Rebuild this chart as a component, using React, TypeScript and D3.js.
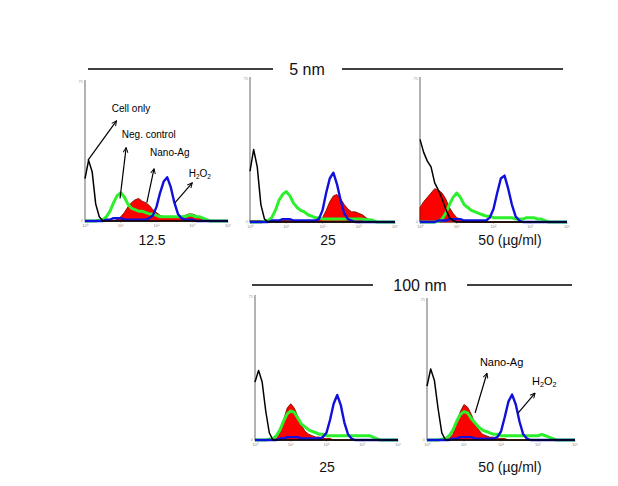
import React from "react";
import * as d3 from "d3";

// log10 fluorescence bins (0.0 .. 4.0)
const BINS = [0,0.1,0.2,0.3,0.4,0.5,0.6,0.7,0.8,0.9,1.0,1.1,1.2,1.3,1.4,1.5,1.6,1.7,1.8,1.9,2.0,2.1,2.2,2.3,2.4,2.5,2.6,2.7,2.8,2.9,3.0,3.1,3.2,3.3,3.4,3.5,3.6,3.7,3.8,3.9,4.0];
const X_TICKS = ["10\u2070", "10\u00b9", "10\u00b2", "10\u00b3", "10\u2074"];
const PANEL_LABELS = ["12.5", "25", "50 (\u00b5g/ml)", "25", "50 (\u00b5g/ml)"];
const GROUP_TITLES = ["5 nm", "100 nm"];

// Panel 1: 5 nm, 12.5
const p1Black = [30,43,35,12,3,0,0,0,0,0,0,0,0,0,0,0,0,0,0,0,0,0,0,0,0,0,0,0,0,0,0,0,0,0,0,0,0,0,0,0,0];
const p1Green = [0,0,0,0,0.5,1,3,7,13,18,20,17,12,9,8,7,7,6,5,5,4,3,3,3,3,3,3,3,3,4,4,3,3,2,1,0,0,0,0,0,0];
const p1Red = [0,0,0,0,0,0,0,0,0,1,3,6,10,13,15,16,14,13,11,8,6,4,3,3,3,3,3,3,4,5,5,4,2,1,0,0,0,0,0,0,0];
const p1Blue = [0,0,0,0,0,0,1,1,2,2,2,1,1,1,1,1,1,1,2,4,10,20,28,31,24,13,5,2,1,1,1,0,0,0,0,0,0,0,0,0,0];

// Panel 2: 5 nm, 25
const p2Black = [35,50,38,12,2,0,0,0,0,0,0,0,0,0,0,0,0,0,0,0,0,0,0,0,0,0,0,0,0,0,0,0,0,0,0,0,0,0,0,0,0];
const p2Green = [0,0,0,0,0.5,1,3,8,15,19,21,18,13,10,8,7,5,4,3,3,2,2,2,2,2,2,2,2,2,2,2,2,1.5,1.5,1,0,0,0,0,0,0];
const p2Red = [1,1,1,1,1,1,1,1,1,1,1,1,1,1,1,1,1,1,1,1,3,8,14,18,19,16,12,9,7,7,6,5,3,1,0,0,0,0,0,0,0];
const p2Blue = [0,0,0,0,0,0,1,1,1,2,2,2,1,1,1,1,1,1,1,2,8,20,30,34,26,15,6,2,1,0,0,0,0,0,0,0,0,0,0,0,0];

// Panel 3: 5 nm, 50
const p3Black = [57,48,42,38,27,22,16,9,3,1,0,0,0,0,0,0,0,0,0,0,0,0,0,0,0,0,0,0,0,0,0,0,0,0,0,0,0,0,0,0,0];
const p3Green = [0,0,0,0,0,0.5,2,6,12,17,20,17,12,10,8,7,6,5,4,4,3,3,3,3,3,3,2,2,2,3,3,3,2,2,1,0,0,0,0,0,0];
const p3Red = [10,14,17,20,23,22,20,16,10,6,3,2,1,0,0,0,0,0,0,0,0,0,0,0,0,0,0,0,0,0,0,0,0,0,0,0,0,0,0,0,0];
const p3Blue = [0,0,0,0,0,1,1,1,2,2,2,2,1,1,1,1,1,1,1,3,9,20,30,32,23,12,4,1,0,0,0,0,0,0,0,0,0,0,0,0,0];

// Panel 4: 100 nm, 25
const p4Black = [40,48,40,20,5,0,0,0,0,0,0,0,0,0,0,0,0,0,0,0,0,0,0,0,0,0,0,0,0,0,0,0,0,0,0,0,0,0,0,0,0];
const p4Green = [0,0,0,0,0.5,1,3,7,13,18,20,19,15,11,9,7,6,5,4,4,3,3,3,3,3,3,3,3,3,3,3,3,3,2,1,0,0,0,0,0,0];
const p4Red = [0,0,0,0,0,0,1,5,14,22,25,22,16,10,6,4,3,2,2,1,1,1,0,0,0,0,0,0,0,0,0,0,0,0,0,0,0,0,0,0,0];
const p4Blue = [0,0,0,0,0,0,0,1,1,2,2,2,2,1,1,1,1,1,1,2,5,14,25,31,24,12,4,1,0,0,0,0,0,0,0,0,0,0,0,0,0];

// Panel 5: 100 nm, 50
const p5Black = [38,50,42,22,5,0,0,0,0,0,0,0,0,0,0,0,0,0,0,0,0,0,0,0,0,0,0,0,0,0,0,0,0,0,0,0,0,0,0,0,0];
const p5Green = [0,0,0,0,0.5,1,3,7,13,18,20,19,15,12,9,7,6,5,4,4,3,3,3,3,3,3,3,3,3,3,3,4,3,2,1,0,0,0,0,0,0];
const p5Red = [0,0,0,0,0,0,1,4,12,20,25,23,18,11,7,4,3,2,2,1,1,1,0,0,0,0,0,0,0,0,0,0,0,0,0,0,0,0,0,0,0];
const p5Blue = [0,0,0,0,0,0,0,1,1,2,2,2,2,1,1,1,1,1,1,2,6,16,27,32,25,13,4,1,0,0,0,0,0,0,0,0,0,0,0,0,0];

// Annotations: [text, textX(log), textY(%), arrowFromX, arrowFromY, arrowToX, arrowToY]
const P1_NOTES: [string, number, number, number, number, number, number][] = [
  ["Cell only", 0.75, 77, 0.08, 43, 0.88, 71],
  ["Neg. control", 1.03, 59, 0.98, 16, 1.15, 52],
  ["Nano-Ag", 1.82, 46, 1.73, 13, 1.93, 37],
  ["H2O2", 2.9, 31, 2.52, 13, 3.0, 27],
];
const P5_NOTES: [string, number, number, number, number, number, number][] = [
  ["Nano-Ag", 1.43, 52, 1.3, 19, 1.62, 47],
  ["H2O2", 2.84, 39, 2.46, 19, 2.92, 33],
];

const SERIES = [
  { black: p1Black, green: p1Green, red: p1Red, blue: p1Blue, notes: P1_NOTES, noteSize: 10 },
  { black: p2Black, green: p2Green, red: p2Red, blue: p2Blue, notes: [], noteSize: 10 },
  { black: p3Black, green: p3Green, red: p3Red, blue: p3Blue, notes: [], noteSize: 10 },
  { black: p4Black, green: p4Green, red: p4Red, blue: p4Blue, notes: [], noteSize: 10 },
  { black: p5Black, green: p5Green, red: p5Red, blue: p5Blue, notes: P5_NOTES, noteSize: 11 },
];

// layout of each panel (pixel frame)
const FRAMES = [
  { x0: 85, x4: 228, top: 80, bottom: 221, labelY: 245 },
  { x0: 250, x4: 395, top: 77, bottom: 222, labelY: 245 },
  { x0: 420, x4: 567, top: 77, bottom: 222, labelY: 245 },
  { x0: 255, x4: 398, top: 295, bottom: 440, labelY: 472 },
  { x0: 427, x4: 575, top: 298, bottom: 440, labelY: 472 },
];
const LABEL_CX = [152, 328, 510, 327, 510];
const FONT = "Liberation Sans, Arial, sans-serif";

function NoteText({ text, x, y, size }: { text: string; x: number; y: number; size: number }) {
  if (text === "H2O2") {
    return (
      <text x={x} y={y} fontSize={size} fontFamily={FONT} fill="#000">
        H<tspan fontSize={size * 0.65} dy={2}>2</tspan><tspan dy={-2}>O</tspan><tspan fontSize={size * 0.65} dy={2}>2</tspan>
      </text>
    );
  }
  return (
    <text x={x} y={y} fontSize={size} fontFamily={FONT} fill="#000">
      {text}
    </text>
  );
}

function Panel({ idx }: { idx: number }) {
  const f = FRAMES[idx];
  const s = SERIES[idx];
  const x = d3.scaleLinear().domain([0, 4]).range([f.x0, f.x4]);
  const y = d3.scaleLinear().domain([0, 100]).range([f.bottom, f.top]);
  const line = (vals: number[]) =>
    d3.line<number>().x((_, i) => x(BINS[i])).y((v) => y(v)).curve(d3.curveLinear)(vals) || "";
  const area = (vals: number[]) =>
    d3.area<number>().x((_, i) => x(BINS[i])).y0(y(0)).y1((v) => y(v)).curve(d3.curveLinear)(vals) || "";
  const ticks = [0, 1, 2, 3, 4];
  return (
    <g>
      <line x1={f.x0} x2={f.x4} y1={f.bottom + 0.5} y2={f.bottom + 0.5} stroke="#a8a8a8" strokeWidth={1} />
      <line x1={f.x0} x2={f.x0} y1={f.top} y2={f.bottom} stroke="#a0a0a0" strokeWidth={1.6} />
      {ticks.map((t) => (
        <g key={t}>
          <line x1={x(t)} x2={x(t)} y1={f.bottom} y2={f.bottom + 2} stroke="#a8a8a8" strokeWidth={0.7} />
          <text x={x(t)} y={f.bottom + 6} fontSize={4} fill="#888" textAnchor="middle" fontFamily={FONT}>
            {X_TICKS[t]}
          </text>
        </g>
      ))}
      <text x={f.x0 - 2} y={f.top + 3} fontSize={4} fill="#999" textAnchor="end" fontFamily={FONT}>75</text>
      <text x={f.x0 - 2} y={f.bottom + 1} fontSize={4} fill="#999" textAnchor="end" fontFamily={FONT}>0</text>
      <path d={area(s.red)} fill="#ff0000" stroke="#7a1400" strokeWidth={0.9} />
      <path d={line(s.green)} fill="none" stroke="#2cf02c" strokeWidth={3} strokeLinejoin="round" />
      <path d={line(s.blue)} fill="none" stroke="#1010dd" strokeWidth={2.4} strokeLinejoin="round" />
      <path d={line(s.black)} fill="none" stroke="#000" strokeWidth={1.5} strokeLinejoin="round" />
      {s.notes.map((n, i) => (
        <g key={i}>
          <line x1={x(n[3])} y1={y(n[4])} x2={x(n[5])} y2={y(n[6])} stroke="#000" strokeWidth={1.2} markerEnd="url(#arrowhead)" />
          <NoteText text={n[0]} x={x(n[1])} y={y(n[2])} size={s.noteSize} />
        </g>
      ))}
      <text x={LABEL_CX[idx]} y={f.labelY} fontSize={14} textAnchor="middle" fontFamily={FONT} fill="#111">
        {PANEL_LABELS[idx]}
      </text>
    </g>
  );
}

export default function App() {
  return (
    <svg width={618} height={486} style={{ position: "absolute", left: 0, top: 0, background: "#fff" }}>
      <defs>
        <marker id="arrowhead" viewBox="0 0 10 10" refX={9} refY={5} markerWidth={5} markerHeight={5} orient="auto" markerUnits="strokeWidth">
          <path d="M1,1 L9,5 L1,9" fill="none" stroke="#000" strokeWidth={1.6} />
        </marker>
      </defs>
      <rect x={0} y={0} width={618} height={486} fill="#fff" />
      <line x1={88} x2={273} y1={69} y2={69} stroke="#000" strokeWidth={1.6} />
      <line x1={342} x2={563} y1={69} y2={69} stroke="#000" strokeWidth={1.6} />
      <text x={307} y={75} fontSize={16} textAnchor="middle" fontFamily={FONT} fill="#111">{GROUP_TITLES[0]}</text>
      <line x1={252} x2={373} y1={285} y2={285} stroke="#000" strokeWidth={1.6} />
      <line x1={467} x2={572} y1={285} y2={285} stroke="#000" strokeWidth={1.6} />
      <text x={420} y={291} fontSize={16} textAnchor="middle" fontFamily={FONT} fill="#111">{GROUP_TITLES[1]}</text>
      {FRAMES.map((_, i) => (
        <Panel key={i} idx={i} />
      ))}
    </svg>
  );
}
